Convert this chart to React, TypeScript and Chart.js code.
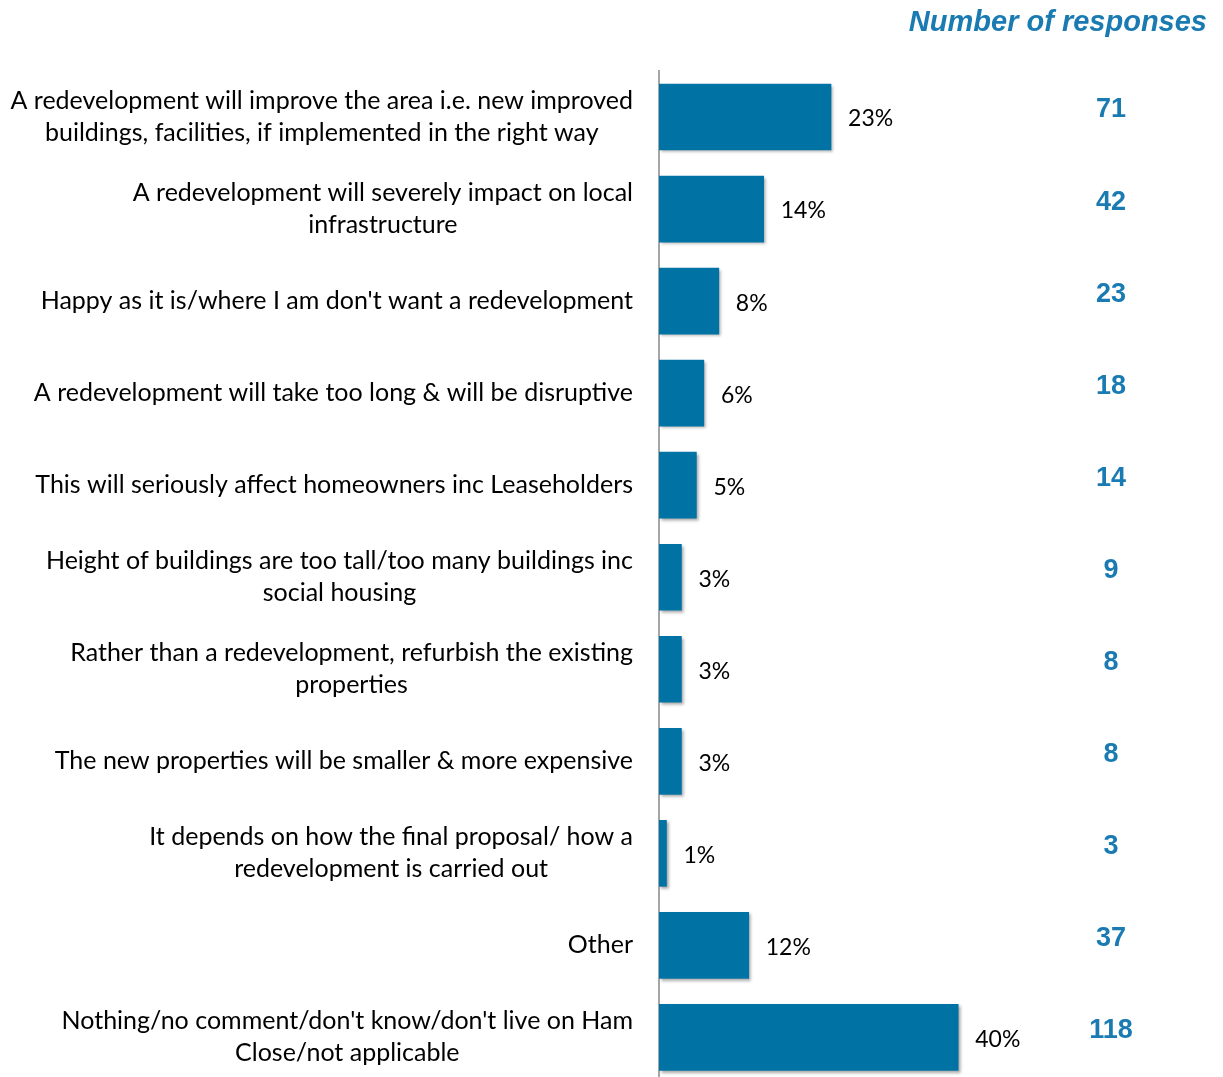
import React, { useEffect, useRef } from "react";
import { Chart, registerables } from "chart.js";

Chart.register(...registerables);

const categories: string[][] = [
  ["A redevelopment will improve the area i.e. new improved", "buildings, facilities, if implemented in the right way"],
  ["A redevelopment will severely impact on local", "infrastructure"],
  ["Happy as it is/where I am don't want a redevelopment"],
  ["A redevelopment will take too long & will be disruptive"],
  ["This will seriously affect homeowners inc Leaseholders"],
  ["Height of buildings are too tall/too many buildings inc", "social housing"],
  ["Rather than a redevelopment, refurbish the existing", "properties"],
  ["The new properties will be smaller & more expensive"],
  ["It depends on how the final proposal/ how a", "redevelopment is carried out"],
  ["Other"],
  ["Nothing/no comment/don't know/don't live on Ham", "Close/not applicable"],
];

const percentValues: number[] = [23, 14, 8, 6, 5, 3, 3, 3, 1, 12, 40];
const responseCounts: number[] = [71, 42, 23, 18, 14, 9, 8, 8, 3, 37, 118];
const countsTitle = "Number of responses";

const BAR_COLOR = "#0073A4";
const COUNT_COLOR = "#1A7AB2";
const LABEL_FONT = "25px Lato";
const PCT_FONT = "23px Lato";
const LABEL_LINE_HEIGHT = 32;
const LABEL_RIGHT = 633;
const COUNT_X = 1111;

const decorPlugin = {
  id: "decor",
  beforeDatasetsDraw(chart: any) {
    const ctx = chart.ctx;
    ctx.save();
    ctx.shadowColor = "rgba(0,0,0,0.35)";
    ctx.shadowOffsetX = 2;
    ctx.shadowOffsetY = 2;
    ctx.shadowBlur = 3;
  },
  afterDatasetsDraw(chart: any) {
    const ctx = chart.ctx;
    ctx.restore();
    const meta = chart.getDatasetMeta(0);
    ctx.save();
    // category labels
    ctx.font = LABEL_FONT;
    ctx.fillStyle = "#000";
    ctx.textBaseline = "middle";
    ctx.textAlign = "center";
    meta.data.forEach((bar: any, i: number) => {
      const lines = categories[i];
      const w = Math.max(...lines.map((l) => ctx.measureText(l).width));
      const cx = LABEL_RIGHT - w / 2;
      const y0 = bar.y - ((lines.length - 1) * LABEL_LINE_HEIGHT) / 2;
      lines.forEach((l, j) => ctx.fillText(l, cx, y0 + j * LABEL_LINE_HEIGHT));
    });
    // percent labels
    ctx.font = PCT_FONT;
    ctx.textAlign = "left";
    meta.data.forEach((bar: any, i: number) => {
      ctx.fillText(percentValues[i] + "%", bar.x + 17, bar.y + 2);
    });
    // counts
    ctx.font = "bold 27px 'Liberation Sans', Arial";
    ctx.fillStyle = COUNT_COLOR;
    ctx.textAlign = "center";
    meta.data.forEach((bar: any, i: number) => {
      ctx.fillText(String(responseCounts[i]), COUNT_X, bar.y - 7);
    });
    // title
    ctx.font = "italic bold 29px 'Liberation Sans', Arial";
    ctx.textAlign = "right";
    ctx.textBaseline = "alphabetic";
    ctx.fillText(countsTitle, 1207, 31);
    ctx.restore();
  },
};

export default function App() {
  const ref = useRef<HTMLCanvasElement | null>(null);
  useEffect(() => {
    if (!ref.current) return;
    const chart = new Chart(ref.current, {
      type: "bar",
      data: {
        datasets: [
          {
            data: percentValues.map((v, i) => ({ x: v, y: i })),
            backgroundColor: BAR_COLOR,
            barThickness: 66,
          },
        ],
      },
      options: {
        indexAxis: "y",
        animation: false,
        responsive: false,
        layout: { padding: { left: 659, top: 71, right: 3, bottom: 0 } },
        plugins: { legend: { display: false }, tooltip: { enabled: false }, title: { display: false } },
        scales: {
          x: { type: "linear", min: 0, max: 75, display: false },
          y: {
            type: "linear",
            min: -0.5,
            max: 10.43,
            reverse: true,
            offset: false,
            ticks: { display: false },
            grid: { display: true, offset: false, drawOnChartArea: false, drawTicks: false },
            border: { display: true, color: "#A6A6A6", width: 2 },
            afterFit: (s: any) => {
              s.width = 0;
            },
          },
        },
      },
      plugins: [decorPlugin],
    } as any);
    return () => chart.destroy();
  }, []);
  return (
    <div style={{ position: "fixed", left: 0, top: 0, width: 1223, height: 1077, background: "#fff" }}>
      <canvas ref={ref} width={1223} height={1077} style={{ display: "block" }} />
    </div>
  );
}
